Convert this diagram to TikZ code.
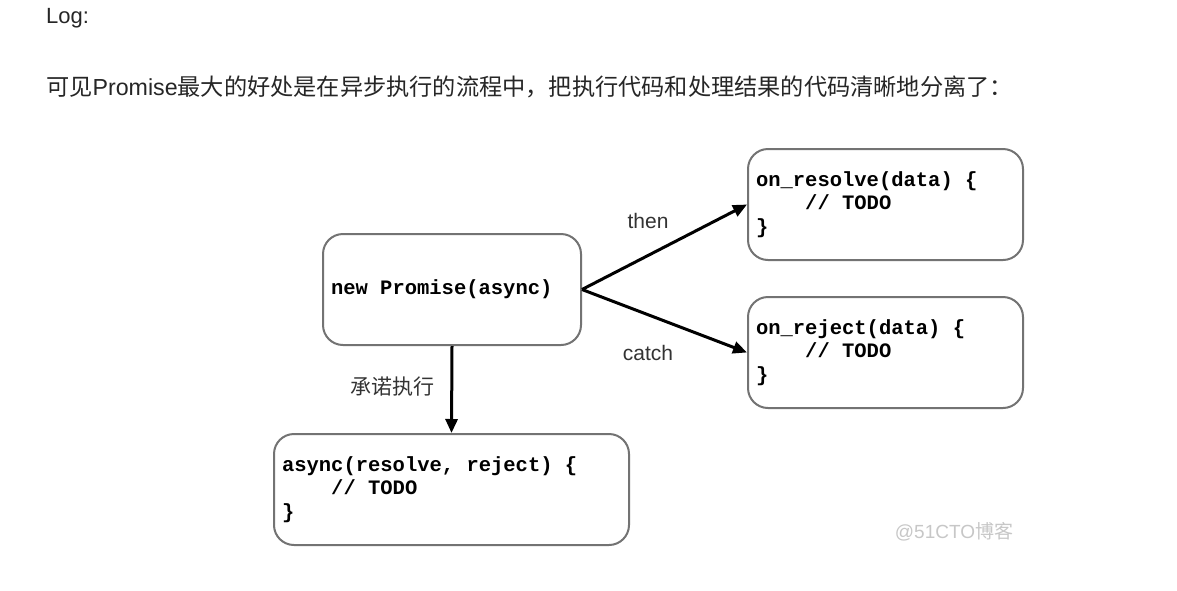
\documentclass[tikz,border=0pt]{standalone}
\usepackage{fontspec}
\setmainfont{Liberation Sans}
\setmonofont{Liberation Mono}
\newfontfamily\cjk{Noto Sans CJK SC}
\usetikzlibrary{arrows.meta,positioning}
\newcommand{\tsp}{\hspace*{0.6em}}

\begin{document}
\begin{tikzpicture}[x=1pt,y=-1pt,
    codebox/.style={draw=black!55,line width=2pt,rounded corners=20pt,fill=white,
      inner xsep=8pt,inner ysep=0pt,align=left,minimum height=111pt,text width=#1,
      font=\fontsize{20.5}{23.5}\selectfont\ttfamily\bfseries},
    flow/.style={-{Triangle[length=14pt,width=12pt]},line width=3pt},
    lbl/.style={font=\fontsize{21}{24}\selectfont,text=black!80,inner sep=0pt}]
  \fill[white] (0,0) rectangle (1177,590);
  \useasboundingbox (0,0) rectangle (1177,590);

  % page text
  \node[anchor=west,inner sep=0pt,font=\fontsize{22}{26}\selectfont,text=black!85] (log) at (46,18) {Log:};
  \node[anchor=west,inner sep=0pt,font=\fontsize{23.2}{26}\selectfont,text=black!85] (intro) at (46,87)
    {{\cjk 可见}Promise{\cjk 最大的好处是在异步执行的流程中，把执行代码和处理结果的代码清晰地分离了：}};

  % boxes
  \node[codebox=242pt] (promise) at (452,289.5) {new\tsp Promise(async)};
  \node[codebox=259pt] (resolve) at (885.5,204.5)
    {on\_resolve(data)\tsp\{\\\hspace*{2.4em}//\tsp TODO\\\}};
  \node[codebox=259pt] (reject) at (885.5,352.5)
    {on\_reject(data)\tsp\{\\\hspace*{2.4em}//\tsp TODO\\\}};
  \node[codebox=339pt] (async) at (451.5,489.5)
    {async(resolve,\tsp reject)\tsp\{\\\hspace*{2.4em}//\tsp TODO\\\}};

  % arrows
  \draw[flow] (promise.east) -- (resolve.west);
  \draw[flow] (promise.east) -- (reject.west);
  \draw[flow] (promise.south) -- (async.north);
  \node[lbl] (then) at (648,221) {then};
  \node[lbl] (catch) at (648,353) {catch};
  \node[lbl] (exec) at (392,387) {\cjk 承诺执行};

  % watermark
  \node[inner sep=0pt,font=\fontsize{19}{22}\selectfont,text=black!22] (mark) at (954,532)
    {@51CTO{\cjk 博客}};
\end{tikzpicture}
\end{document}
